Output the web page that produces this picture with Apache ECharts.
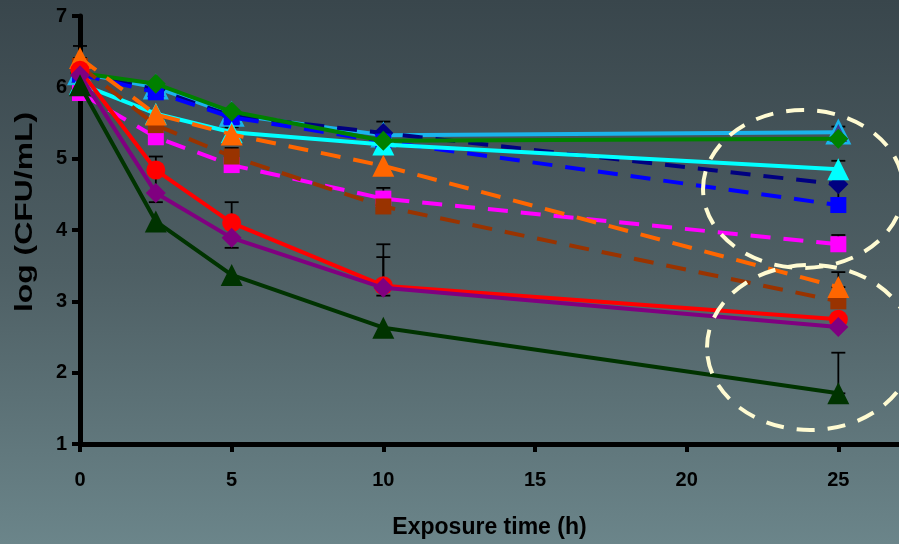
<!DOCTYPE html>
<html>
<head>
<meta charset="utf-8">
<script src="https://cdn.jsdelivr.net/npm/echarts@6/dist/echarts.min.js"></script>
<style>
  html, body { margin: 0; padding: 0; }
  #chart { width: 899px; height: 544px; }
</style>
</head>
<body>
<div id="chart"></div>
<script>
// Sampling times (h)
const times = [0, 2.5, 5, 10, 25];

// log(CFU/mL) per treatment
const skyBlue   = [6.20, 6.00, 5.62, 5.33, 5.37];
const green     = [6.20, 6.05, 5.66, 5.25, 5.28];
const cyan      = [6.05, 5.63, 5.37, 5.20, 4.85];
const navy      = [6.20, 5.97, 5.60, 5.36, 4.64];
const blue      = [6.18, 5.93, 5.58, 5.24, 4.35];
const orange    = [6.41, 5.62, 5.34, 4.90, 3.20];
const magenta   = [5.92, 5.30, 4.91, 4.44, 3.80];
const brown     = [6.30, 5.47, 5.03, 4.33, 3.00];
const red       = [6.24, 4.84, 4.10, 3.22, 2.75];
const purple    = [6.17, 4.52, 3.89, 3.19, 2.64];
const darkGreen = [6.03, 4.12, 3.37, 2.63, 1.71];

// Error bars: time, lower end, upper end
const errTime = [0,    2.5,  5,    5,    5,    10,   10,   10,   10,   25,   25,   25,   25,   25];
const errLow  = [6.41, 4.39, 3.75, 5.03, 5.34, 3.08, 3.19, 4.44, 5.33, 1.71, 3.20, 3.80, 4.35, 5.28];
const errHigh = [6.58, 5.03, 4.39, 5.15, 5.44, 3.80, 3.62, 4.59, 5.52, 2.28, 3.41, 3.93, 4.97, 5.45];

// Axis ticks
const xTicks = { min: 0, max: 27, interval: 5 };
const yTicks = { min: 1, max: 7, interval: 1 };

// Highlight ellipses in data units: centre x, centre y, radius x, radius y
const ringX  = [23.84, 24.07];
const ringY  = [4.575, 2.353];
const ringRx = [3.30, 3.40];
const ringRy = [1.107, 1.157];

const pairs = v => times.map((t, i) => [t, v[i]]);

function line(data, color, symbol, size, dashed, z, extra) {
  return Object.assign({
    type: 'line',
    data: pairs(data),
    symbol: symbol,
    symbolSize: size,
    showSymbol: true,
    animation: false,
    z: z,
    lineStyle: { color: color, width: 4, type: dashed ? [20, 13] : 'solid' },
    itemStyle: { color: color, borderWidth: 0 }
  }, extra || {});
}

const chart = echarts.init(document.getElementById('chart'), null, { renderer: 'canvas' });

const option = {
  backgroundColor: {
    type: 'linear', x: 0, y: 0, x2: 0, y2: 1,
    colorStops: [
      { offset: 0, color: '#39464c' },
      { offset: 0.5, color: '#4e5f64' },
      { offset: 1, color: '#6b858a' }
    ]
  },
  grid: { left: 80, right: 0, top: 16, bottom: 100 },
  xAxis: {
    type: 'value',
    min: xTicks.min, max: xTicks.max, interval: xTicks.interval,
    name: 'Exposure time (h)',
    nameLocation: 'middle',
    nameGap: 72,
    nameTextStyle: { color: '#000', fontSize: 23, fontWeight: 'bold', fontFamily: 'Liberation Sans, Arial, sans-serif' },
    axisLine: { lineStyle: { color: '#000', width: 5 } },
    axisTick: { show: true, length: 8, lineStyle: { color: '#000', width: 4 } },
    axisLabel: {
      color: '#000', fontSize: 20, fontWeight: 'bold', margin: 26,
      fontFamily: 'Liberation Sans, Arial, sans-serif',
      showMaxLabel: false
    },
    splitLine: { show: false }
  },
  yAxis: {
    type: 'value',
    min: yTicks.min, max: yTicks.max, interval: yTicks.interval,
    axisLine: { show: true, lineStyle: { color: '#000', width: 5 } },
    axisTick: { show: true, length: 8, lineStyle: { color: '#000', width: 4 } },
    axisLabel: {
      color: '#000', fontSize: 20, fontWeight: 'bold', margin: 13,
      fontFamily: 'Liberation Sans, Arial, sans-serif'
    },
    splitLine: { show: false }
  },
  series: [
    {
      type: 'custom',
      animation: false,
      z: 1,
      data: errTime.map((t, i) => [t, errLow[i], errHigh[i]]),
      renderItem: function (params, api) {
        const lo = api.coord([api.value(0), api.value(1)]);
        const hi = api.coord([api.value(0), api.value(2)]);
        const half = 7;
        const st = { stroke: '#000', lineWidth: 1.8 };
        return {
          type: 'group',
          children: [
            { type: 'line', shape: { x1: lo[0], y1: lo[1], x2: hi[0], y2: hi[1] }, style: st },
            { type: 'line', shape: { x1: hi[0] - half, y1: hi[1], x2: hi[0] + half, y2: hi[1] }, style: st },
            { type: 'line', shape: { x1: lo[0] - half, y1: lo[1], x2: lo[0] + half, y2: lo[1] }, style: st }
          ]
        };
      }
    },
    line(skyBlue, '#1ab4ec', 'triangle', 22, false, 2, {
      itemStyle: { color: '#3c3f96', borderColor: '#1ab4ec', borderWidth: 2.5 }
    }),
    line(navy, '#000080', 'diamond', 20, true, 3),
    line(blue, '#0000ff', 'rect', 16, true, 4),
    line(cyan, '#00ffff', 'triangle', 22, false, 5),
    line(green, '#008000', 'diamond', 20, false, 6),
    line(magenta, '#ff00ff', 'rect', 16, true, 7),
    line(brown, '#993300', 'rect', 16, true, 8),
    line(orange, '#ff6600', 'triangle', 22, true, 9),
    line(red, '#ff0000', 'circle', 19, false, 10),
    line(purple, '#800080', 'diamond', 20, false, 11),
    line(darkGreen, '#003300', 'triangle', 22, false, 12)
  ]
};

chart.setOption(option);

// Rotated, stretched y-axis title and the dashed highlight rings
const rings = ringX.map((cx, i) => {
  const c = chart.convertToPixel({ gridIndex: 0 }, [cx, ringY[i]]);
  const e = chart.convertToPixel({ gridIndex: 0 }, [cx + ringRx[i], ringY[i] + ringRy[i]]);
  return {
    type: 'ellipse',
    shape: { cx: c[0], cy: c[1], rx: Math.abs(e[0] - c[0]), ry: Math.abs(c[1] - e[1]) },
    style: { fill: null, stroke: '#fffbd2', lineWidth: 4, lineDash: [18, 13] },
    z: 100,
    silent: true
  };
});

chart.setOption({
  graphic: [
    {
      type: 'text',
      x: 25, y: 212,
      rotation: Math.PI / 2,
      scaleX: 1.45,
      scaleY: 1.08,
      style: {
        text: 'log (CFU/mL)',
        fill: '#000',
        font: 'bold 22px "Liberation Sans", Arial, sans-serif',
        align: 'center',
        verticalAlign: 'middle'
      },
      z: 100
    }
  ].concat(rings)
});
</script>
</body>
</html>
